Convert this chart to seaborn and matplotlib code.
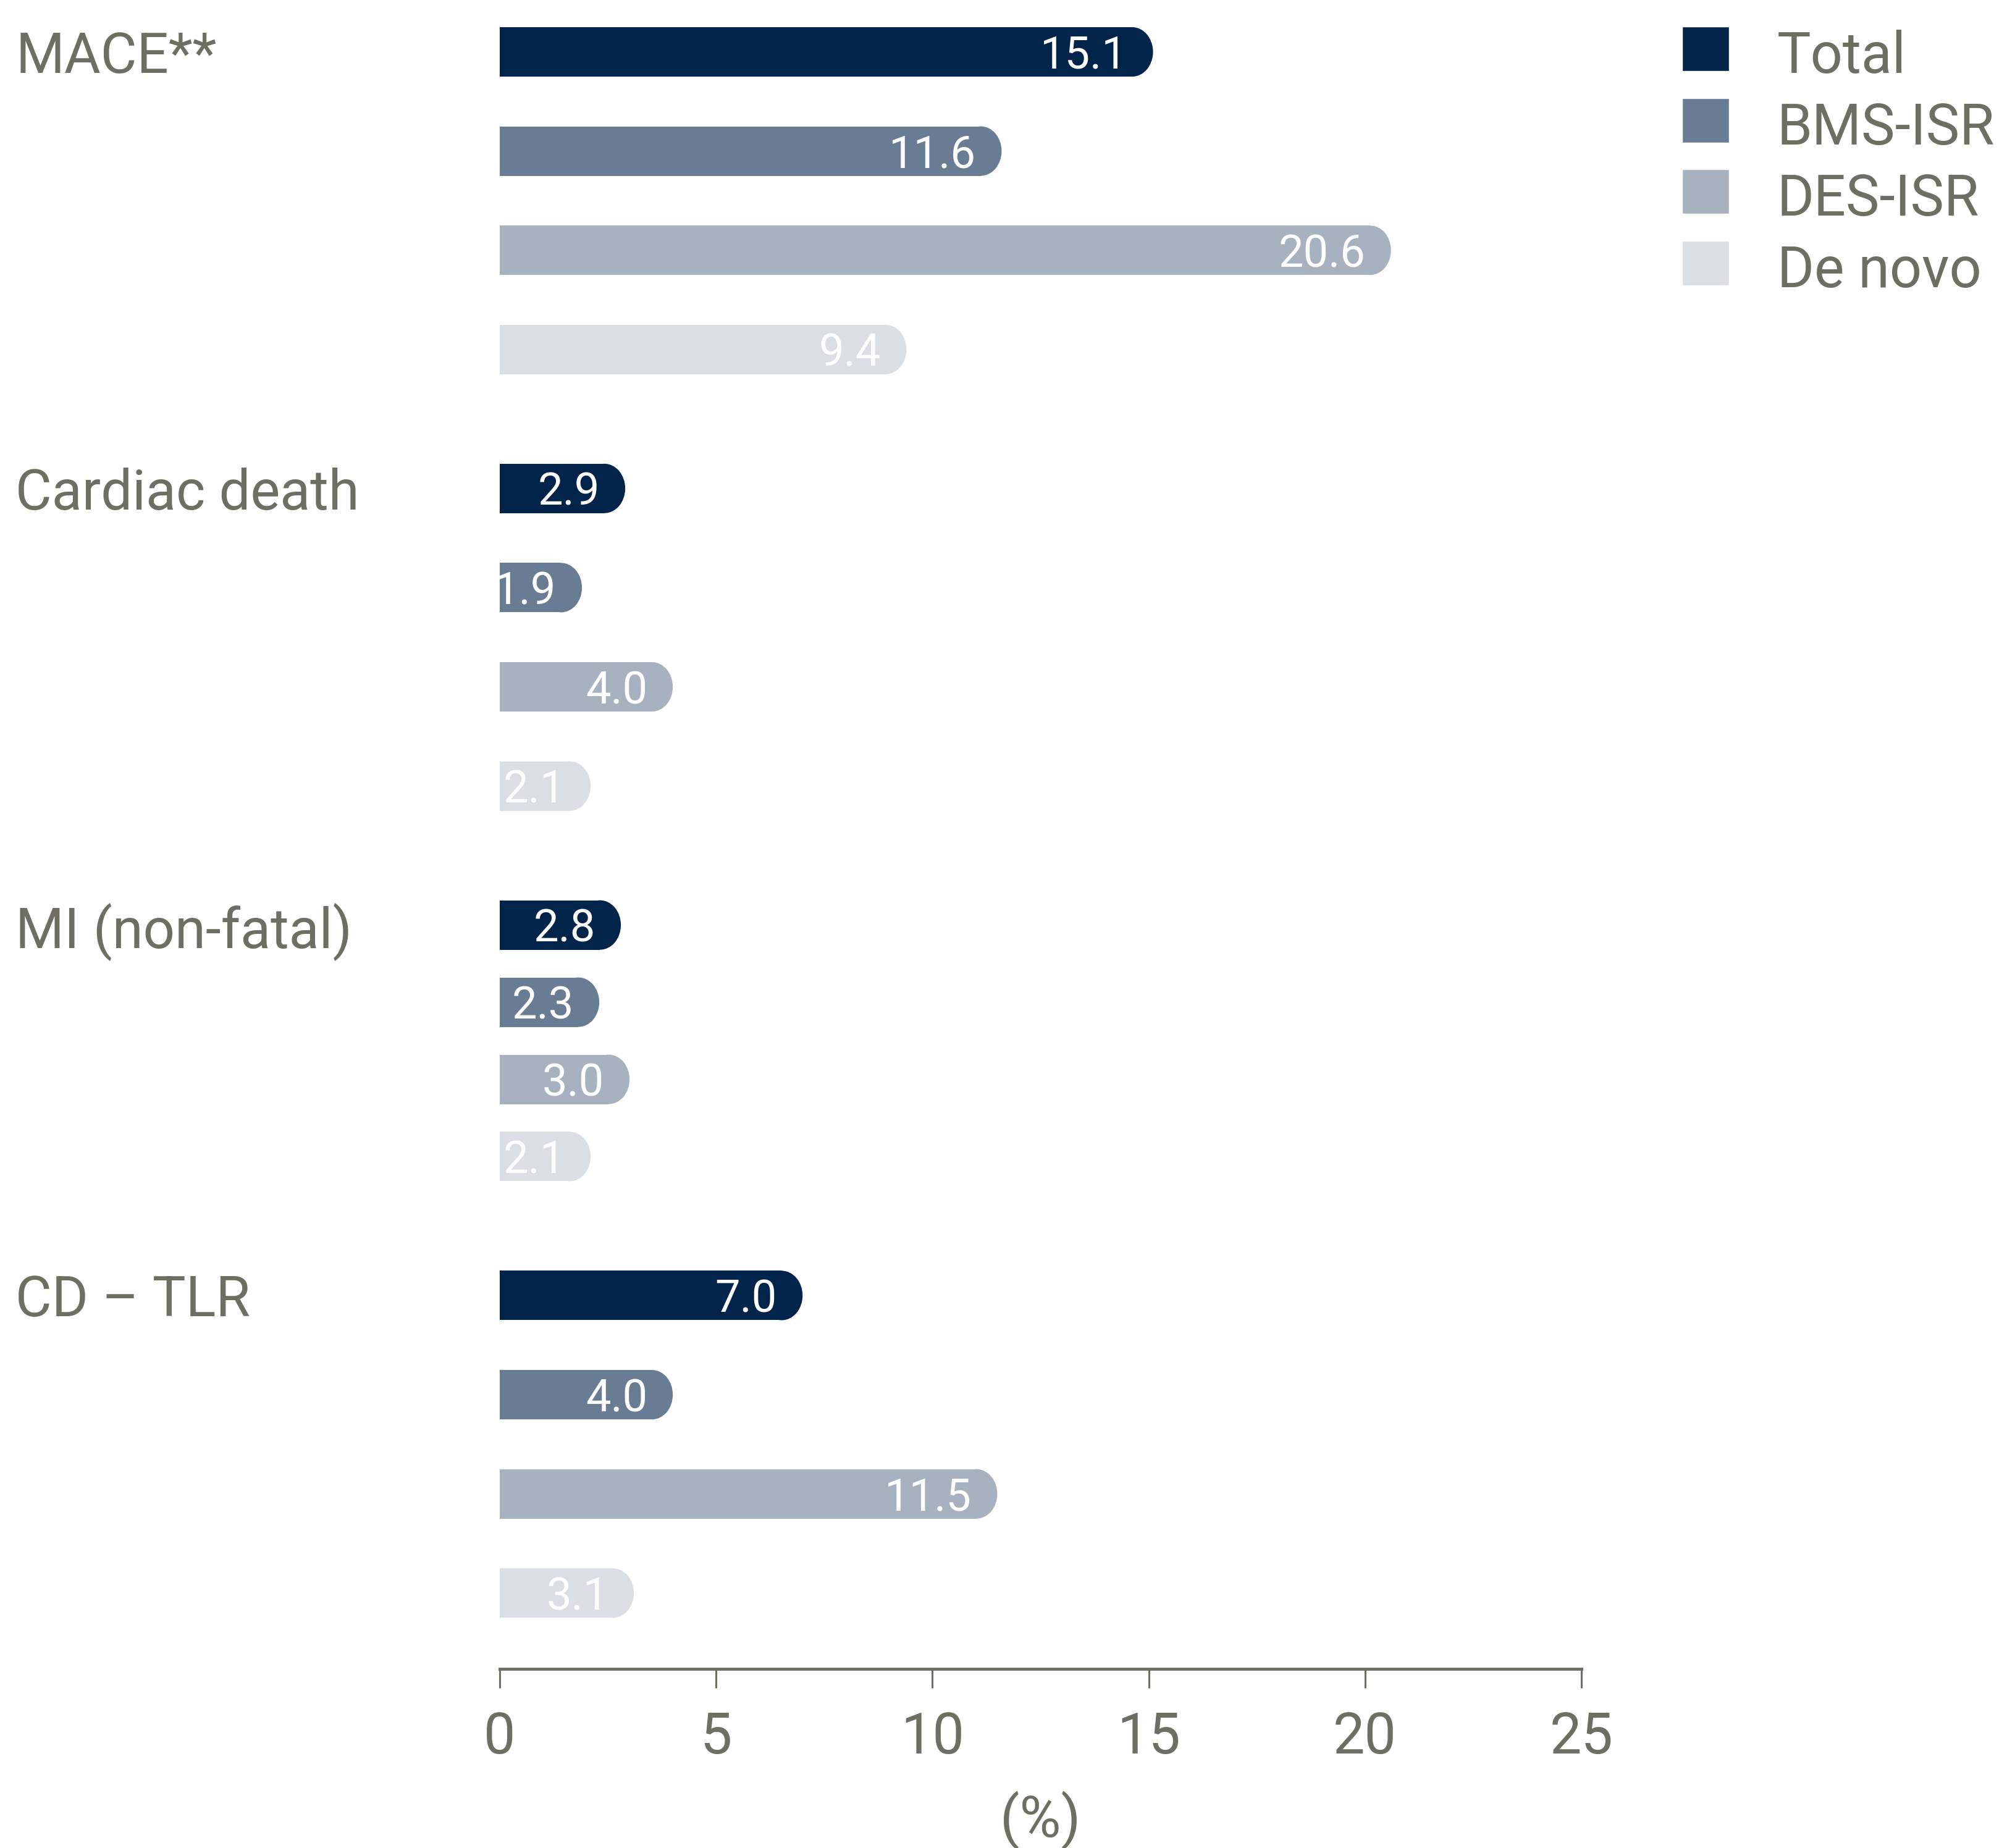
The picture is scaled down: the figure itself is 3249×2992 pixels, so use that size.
import numpy as np
import pandas as pd
import matplotlib
matplotlib.use("Agg")
import matplotlib.pyplot as plt
from matplotlib.patches import Ellipse
from matplotlib import transforms
import seaborn as sns

# ---------------- data ----------------
outcomes = ["MACE**", "Cardiac death", "MI (non-fatal)", "CD \u2013 TLR"]
series = ["Total", "BMS-ISR", "DES-ISR", "De novo"]
total = [15.1, 2.9, 2.8, 7.0]
bms_isr = [11.6, 1.9, 2.3, 4.0]
des_isr = [20.6, 4.0, 3.0, 11.5]
de_novo = [9.4, 2.1, 2.1, 3.1]
x_ticks = [0, 5, 10, 15, 20, 25]
x_label = "(%)"

# ---------------- style ----------------
colors = ["#02234a", "#687c94", "#a7b2c0", "#dadfe6"]
text_gray = "#6e6e63"

sns.set_style("white")
plt.rcParams["font.family"] = ["Roboto", "DejaVu Sans"]

# layout in row units (one unit = normal spacing between bars)
bar_pitch = [1.0, 1.0, 0.778, 1.0]   # MI group is drawn tighter
group_gap = 1.401
bar_h = 0.498
end_rx = 0.48        # horizontal radius of the rounded bar end (x data units)
label_pad = 0.59     # value label distance from bar end (x data units)

values_by_series = [total, bms_isr, des_isr, de_novo]
rows, row_vals, row_series, row_pos, group_first = [], [], [], [], []
y = 0.0
for g, outcome in enumerate(outcomes):
    group_first.append(y)
    for s, name in enumerate(series):
        rows.append(f"{outcome}|{name}")
        row_vals.append(values_by_series[s][g])
        row_series.append(name)
        row_pos.append(y)
        if s < len(series) - 1:
            y += bar_pitch[g]
    y += group_gap

df = pd.DataFrame({"row": rows, "value": row_vals, "series": row_series})

fig = plt.figure(figsize=(32.49, 29.92), dpi=100)
ax = fig.add_axes([0.2490, 0.09693, 0.5389, 0.90307])

sns.barplot(data=df, x="value", y="row", hue="series", order=rows,
            hue_order=series, palette=colors, dodge=False, orient="y",
            saturation=1, width=bar_h, ax=ax, legend=True)

# reposition bars to the grouped layout and give them a rounded right end
bars = [p for p in ax.patches if p.get_width() > 0]
for p in bars:
    idx = int(round(p.get_y() + p.get_height() / 2))
    val = p.get_width()
    yc = row_pos[idx]
    col = p.get_facecolor()
    p.set_y(yc - bar_h / 2)
    p.set_height(bar_h)
    p.set_width(val - end_rx)
    p.set_linewidth(0)
    ax.add_patch(Ellipse((val - end_rx, yc), 2 * end_rx, bar_h,
                         facecolor=col, linewidth=0))
    ax.text(val - label_pad, yc, f"{val:.1f}", ha="right",
            va="center_baseline", color="white", fontsize=52)

ax.set_xlim(0, 25)
ax.set_ylim(16.301, -0.523)
ax.set_yticks([])
ax.set_ylabel("")

# category labels at the left edge of the figure
trans = transforms.blended_transform_factory(fig.transFigure, ax.transData)
for outcome, yy in zip(outcomes, group_first):
    ax.text(0.0077, yy, outcome, transform=trans, ha="left",
            va="center_baseline", color=text_gray, fontsize=65)

# x axis
for side in ["top", "right", "left"]:
    ax.spines[side].set_visible(False)
ax.spines["bottom"].set_color(text_gray)
ax.spines["bottom"].set_linewidth(3.5)
ax.spines["bottom"].set_bounds(0, 25)
ax.set_xticks(x_ticks)
ax.set_xticklabels([str(t) for t in x_ticks])
ax.tick_params(axis="x", bottom=True, direction="out", length=22, width=2.2,
               color=text_gray, labelcolor=text_gray, labelsize=66, pad=26)
ax.set_xlabel(x_label, fontsize=66, color=text_gray, va="center")
ax.xaxis.set_label_coords(0.5, -0.0907)

sns.move_legend(ax, "upper left", bbox_to_anchor=(2723 / 3249, 1 - 41 / 2992),
                bbox_transform=fig.transFigure, frameon=False, title=None,
                fontsize=66, labelcolor=text_gray, handlelength=0.829,
                handleheight=0.829, handletextpad=0.85, labelspacing=0.29,
                borderpad=0, borderaxespad=0)
leg = ax.get_legend()
for t in leg.get_texts():
    t.set_position((0, -7))

fig.savefig("out.png", dpi=100, facecolor="white")
